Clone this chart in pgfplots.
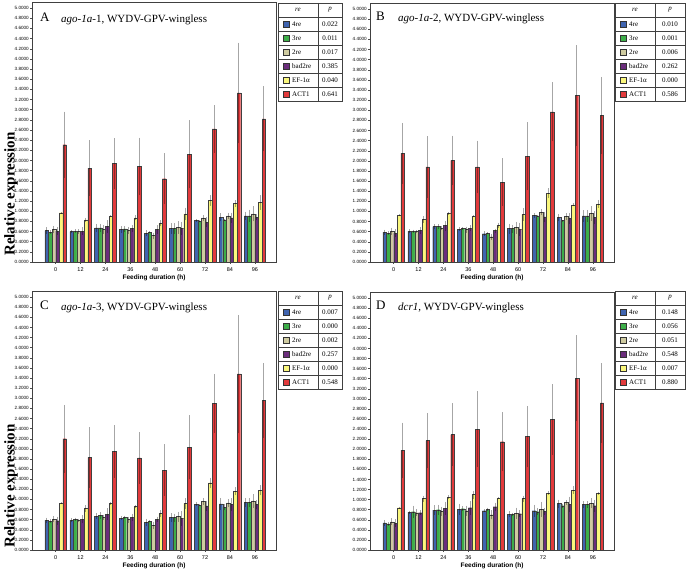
\documentclass[border=0pt]{standalone}
\usepackage{fontspec}
\setmainfont{Liberation Serif}
\setsansfont{Liberation Sans}
\usepackage{pgfplots}
\pgfplotsset{compat=1.18}
\usepackage{pgfplotstable}

\definecolor{c4re}{HTML}{3F64B0}
\definecolor{c3re}{HTML}{3DAE49}
\definecolor{c2re}{HTML}{CFCBA0}
\definecolor{cbad}{HTML}{6B2D7C}
\definecolor{cef}{HTML}{FAF77C}
\definecolor{cact}{HTML}{E23A3C}

% columns: 4re, 3re, 2re, bad2re, EF-1a, ACT1 (value and error)
\pgfplotstableread{
x a ea b eb c ec d ed e ee f ef
0 .62 .06 .59 .04 .64 .07 .61 .07 .97 .02 2.31 .65
1 .60 .03 .61 .03 .60 .04 .61 .07 .83 .04 1.85 .55
2 .67 .08 .67 .08 .64 .08 .70 .12 .90 .02 1.94 .50
3 .64 .06 .65 .05 .62 .07 .66 .06 .87 .05 1.88 .57
4 .57 .06 .59 .02 .52 .06 .64 .08 .76 .06 1.64 .50
5 .66 .10 .66 .10 .68 .12 .66 .13 .95 .12 2.12 .67
6 .82 .03 .80 .02 .87 .06 .78 .10 1.21 .10 2.62 .47
7 .88 .08 .83 .02 .91 .06 .87 .10 1.15 .07 3.33 .99
8 .91 .08 .91 .12 .95 .15 .88 .06 1.17 .14 2.82 .64
}\tabA
\pgfplotstableread{
x a ea b eb c ec d ed e ee f ef
0 .59 .05 .57 .04 .61 .07 .57 .08 .92 .02 2.15 .60
1 .61 .04 .61 .03 .60 .03 .62 .07 .84 .06 1.88 .61
2 .70 .05 .70 .05 .67 .04 .72 .10 .96 .03 2.01 .49
3 .65 .04 .66 .03 .64 .06 .67 .06 .90 .02 1.88 .52
4 .56 .05 .57 .02 .50 .06 .62 .04 .73 .05 1.58 .47
5 .66 .10 .66 .08 .68 .12 .65 .13 .94 .13 2.09 .67
6 .92 .05 .91 .02 .98 .06 .89 .10 1.36 .10 2.97 .58
7 .88 .07 .82 .02 .90 .06 .86 .10 1.13 .03 3.29 .99
8 .91 .11 .91 .12 .96 .15 .88 .12 1.15 .08 2.90 .76
}\tabB
\pgfplotstableread{
x a ea b eb c ec d ed e ee f ef
0 .59 .05 .57 .04 .61 .06 .58 .08 .92 .02 2.20 .67
1 .59 .04 .61 .03 .59 .03 .61 .08 .82 .06 1.83 .60
2 .67 .06 .68 .07 .64 .05 .71 .12 .92 .03 1.95 .52
3 .63 .04 .65 .03 .60 .06 .65 .07 .86 .02 1.82 .51
4 .55 .07 .57 .02 .49 .07 .61 .05 .72 .07 1.58 .51
5 .64 .09 .64 .08 .66 .10 .63 .15 .92 .10 2.03 .63
6 .90 .04 .88 .02 .96 .07 .87 .10 1.33 .10 2.90 .58
7 .91 .12 .85 .06 .93 .08 .90 .12 1.16 .08 3.48 1.17
8 .94 .09 .94 .09 .97 .14 .90 .09 1.18 .10 2.96 .74
}\tabC
\pgfplotstableread{
x a ea b eb c ec d ed e ee f ef
0 .54 .06 .52 .04 .56 .07 .53 .08 .84 .02 1.98 .55
1 .75 .03 .76 .12 .74 .07 .74 .05 1.02 .06 2.17 .55
2 .79 .10 .80 .10 .77 .09 .83 .13 1.05 .04 2.29 .62
3 .81 .11 .82 .05 .78 .10 .84 .14 1.10 .08 2.40 .75
4 .78 .03 .81 .03 .70 .09 .86 .08 1.03 .02 2.15 .58
5 .71 .06 .71 .03 .73 .11 .72 .07 1.02 .06 2.25 .61
6 .78 .12 .76 .07 .81 .15 .77 .07 1.13 .04 2.59 .70
7 .92 .08 .88 .04 .94 .05 .91 .15 1.19 .08 3.41 .85
8 .90 .07 .90 .07 .93 .10 .88 .12 1.13 .03 2.92 .79
}\tabD

\pgfplotsset{
  panel/.style={
    scale only axis, width=244pt, anchor=south west,
    ymin=0, ymax=5.12, xmin=-0.95, xmax=8.85,
    ybar=0pt, bar width=3.6pt,
    axis line style={black!75, line width=0.5pt},
    ytick distance=0.2,
    xtick={0,...,8}, xticklabels={0,12,24,36,48,60,72,84,96},
    tick pos=left, tick align=outside, major tick length=2pt,
    tick style={black!70, line width=0.4pt},
    yticklabel style={font=\sffamily\fontsize{4.6}{5}\selectfont, inner xsep=1pt,
      /pgf/number format/.cd, fixed, fixed zerofill, precision=4, assume math mode=true},
    xticklabel style={font=\sffamily\fontsize{5.5}{6}\selectfont},
    xlabel={Feeding duration (h)},
    xlabel style={font=\sffamily\bfseries\fontsize{6.5}{7}\selectfont,
      at={(axis description cs:0.5,0)}, anchor=center, yshift=-16pt},
  },
  eb/.style={draw=black!75, line width=0.3pt,
    error bars/.cd, y dir=both, y explicit, error mark=none,
    error bar style={line width=1pt, black, opacity=0.32}},
}

\newcommand\panel[4]{%
  \begin{axis}[panel, at={(#2pt,#3pt)}, height=#4pt]
    \addplot[fill=c4re, eb] table[x=x, y=a, y error=ea]{#1};
    \addplot[fill=c3re, eb] table[x=x, y=b, y error=eb]{#1};
    \addplot[fill=c2re, eb] table[x=x, y=c, y error=ec]{#1};
    \addplot[fill=cbad, eb] table[x=x, y=d, y error=ed]{#1};
    \addplot[fill=cef, eb] table[x=x, y=e, y error=ee]{#1};
    \addplot[fill=cact, eb] table[x=x, y=f, y error=ef]{#1};
  \end{axis}}

% legend table: #1 left, #2 top, #3 right, #4 column split, #5 rows
\newcommand\legtab[5]{%
  \begin{scope}[font=\fontsize{7}{8}\selectfont]
  \draw[black!75, line width=0.5pt] (#1pt,#2pt) rectangle (#3pt,#2pt-98pt);
  \draw[black!75, line width=0.5pt] (#4pt,#2pt) -- (#4pt,#2pt-98pt);
  \node[font=\itshape\fontsize{7}{8}\selectfont] at ({(#1+#4)/2*1pt},#2pt-7pt) {re};
  \node[font=\itshape\fontsize{7}{8}\selectfont] at ({(#4+#3)/2*1pt},#2pt-7pt) {p};
  \foreach \n/\c/\p [count=\i] in {#5} {
    \draw[black!75, line width=0.5pt] (#1pt,#2pt-\i*14pt) -- (#3pt,#2pt-\i*14pt);
    \filldraw[fill=\c, draw=black!80, line width=0.3pt]
      (#1pt+5pt,#2pt-\i*14pt-4pt) rectangle ++(6pt,-6pt);
    \node[anchor=west, inner xsep=0pt] at (#1pt+14pt,#2pt-\i*14pt-7pt) {\n};
    \node at ({(#4+#3)/2*1pt},#2pt-\i*14pt-7pt) {\p};
  }
  \end{scope}}

\begin{document}
\begin{tikzpicture}
  \path[use as bounding box] (0pt,0pt) rectangle (686pt,573pt);
  \panel{\tabA}{32}{311}{260}
  \panel{\tabB}{370}{311}{259}
  \panel{\tabC}{32}{23}{259}
  \panel{\tabD}{370}{23}{258}

  \node[anchor=base west, inner sep=0pt, font=\fontsize{13}{14}\selectfont] at (40pt,551pt) {A};
  \node[anchor=base west, inner sep=0pt, font=\fontsize{11}{12}\selectfont] at (61pt,550pt) {\textit{ago-1a}-1, WYDV-GPV-wingless};
  \node[anchor=base west, inner sep=0pt, font=\fontsize{13}{14}\selectfont] at (376pt,552pt) {B};
  \node[anchor=base west, inner sep=0pt, font=\fontsize{11}{12}\selectfont] at (398pt,551pt) {\textit{ago-1a}-2, WYDV-GPV-wingless};
  \node[anchor=base west, inner sep=0pt, font=\fontsize{13}{14}\selectfont] at (40pt,263pt) {C};
  \node[anchor=base west, inner sep=0pt, font=\fontsize{11}{12}\selectfont] at (61pt,262pt) {\textit{ago-1a}-3, WYDV-GPV-wingless};
  \node[anchor=base west, inner sep=0pt, font=\fontsize{13}{14}\selectfont] at (376pt,263pt) {D};
  \node[anchor=base west, inner sep=0pt, font=\fontsize{11}{12}\selectfont] at (398pt,262pt) {\textit{dcr1}, WYDV-GPV-wingless};

  \node[rotate=90, font=\bfseries\fontsize{15}{16}\selectfont] at (11pt,379pt) {Relative expression};
  \node[rotate=90, font=\bfseries\fontsize{15}{16}\selectfont] at (11pt,87pt) {Relative expression};

  \legtab{278}{570}{342}{318}{4re/c4re/0.022, 3re/c3re/0.011, 2re/c2re/0.017, bad2re/cbad/0.385, EF-1α/cef/0.040, ACT1/cact/0.641}
  \legtab{615}{570}{685}{655}{4re/c4re/0.010, 3re/c3re/0.001, 2re/c2re/0.006, bad2re/cbad/0.262, EF-1α/cef/0.000, ACT1/cact/0.586}
  \legtab{278}{282}{342}{318}{4re/c4re/0.007, 3re/c3re/0.000, 2re/c2re/0.002, bad2re/cbad/0.257, EF-1α/cef/0.000, ACT1/cact/0.548}
  \legtab{615}{282}{685}{655}{4re/c4re/0.148, 3re/c3re/0.056, 2re/c2re/0.051, bad2re/cbad/0.548, EF-1α/cef/0.007, ACT1/cact/0.880}
\end{tikzpicture}
\end{document}
